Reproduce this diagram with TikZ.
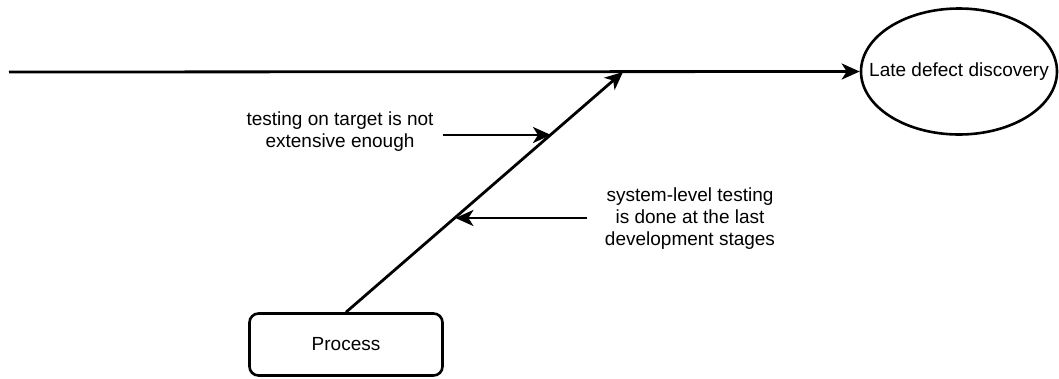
\documentclass[tikz,border=0pt]{standalone}
\usepackage{fontspec}
\setmainfont{Liberation Sans}
\usetikzlibrary{arrows.meta,calc,shapes.geometric}
\begin{document}
\begin{tikzpicture}[x=1pt,y=-1pt,
  conn/.style={line width=2.8pt,-{Stealth[length=18pt,width=16pt,inset=5pt]}},
  lbl/.style={align=center,font=\fontsize{19}{22}\selectfont,inner sep=0pt},
  procbox/.style={draw,line width=2.6pt,rounded corners=9pt,minimum width=193pt,minimum height=62pt,font=\fontsize{19}{22}\selectfont},
  effect/.style={draw,ellipse,line width=2.6pt,minimum width=196pt,minimum height=126pt,inner sep=0pt}]
\useasboundingbox (0,0) rectangle (1059,378);
\node[effect] (eff) at (959,71.5) {};
\node[lbl] (efftext) at (eff.center) {Late defect discovery};
\coordinate (start) at (9,72);
\node[procbox] (proc) at (346,344.5) {Process};
\coordinate (join) at (623,72);
\draw[conn] (start) -- (eff.west);
\draw[conn] (proc.north) -- (join);
\coordinate (c1) at ($(proc.north)!0.74!(join)$);
\coordinate (c2) at ($(proc.north)!0.395!(join)$);
\node[lbl] (t1) at (340,132) {testing on target is not\\extensive enough};
\node[lbl] (t2) at (690,219) {system-level testing\\is done at the last\\development stages};
\coordinate (a1) at (443,135);
\coordinate (a2) at (587,218);
\draw[conn] (a1) -- (a1 -| c1);
\draw[conn] (a2) -- (a2 -| c2);
\end{tikzpicture}
\end{document}
